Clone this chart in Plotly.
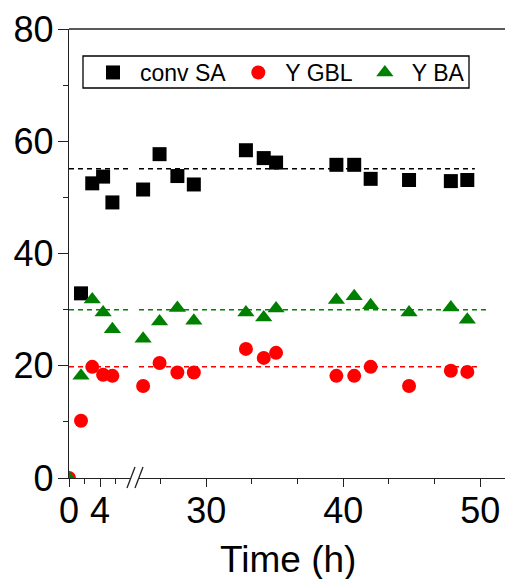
import plotly.graph_objects as go

# ---------------- data ----------------
t_early = [0, 1.55, 3.0, 4.4, 5.6]
t_late = [25.4, 26.6, 27.9, 29.1, 32.9, 34.2, 35.1, 39.5, 40.8, 42.0, 44.8, 47.85, 49.05]

conv_sa_early = [None, 32.9, 52.5, 53.7, 49.1]
conv_sa_late = [51.4, 57.7, 53.8, 52.3, 58.4, 57.0, 56.2, 55.8, 55.8, 53.3, 53.1, 52.9, 53.1]

y_gbl_early = [0, 10.2, 19.8, 18.4, 18.2]
y_gbl_late = [16.4, 20.5, 18.8, 18.8, 23.0, 21.4, 22.3, 18.2, 18.2, 19.8, 16.4, 19.1, 18.9]

y_ba_early = [0, 18.2, 31.8, 29.5, 26.5]
y_ba_late = [24.8, 27.9, 30.3, 28.0, 29.5, 28.6, 30.2, 31.7, 32.4, 30.8, 29.5, 30.4, 28.2]

series_names = ["conv SA", "Y GBL", "Y BA"]
mean_values = [55.1, 19.8, 30.0]       # dashed average lines
mean_line_end = [49.6, 50.0, 50.6]     # time where each dashed line ends

x_tick_early = [0, 4]
x_minor_early = [2, 6]
x_tick_late = [30, 40, 50]
x_minor_late = [26.67, 33.33, 36.67, 43.33, 46.67]
y_ticks = [0, 20, 40, 60, 80]

# ---------------- styling / layout ----------------
FONT = "Arial, 'Liberation Sans', sans-serif"
W, H = 505, 579
ML, MT, MB, MR = 69, 29, 101, 0
PW = W - ML - MR
PH = H - MT - MB
brk_l, brk_r = 131, 139          # pixel x of the axis break
x_early_range = [0, 8.0]
x_late_range = [25.1, 51.8]

def px_x(p):
    return (p - ML) / PW

def px_y(p):
    return (MT + PH - p) / PH

colors = ["black", "#ff0000", "#008000"]
symbols = ["square", "circle", "triangle-up"]
sizes = [14, 14, 15]
early = [conv_sa_early, y_gbl_early, y_ba_early]
late = [conv_sa_late, y_gbl_late, y_ba_late]

fig = go.Figure()

# dashed mean lines (beneath markers)
for i in range(3):
    fig.add_trace(go.Scatter(
        x=[x_early_range[0], x_early_range[1]], y=[mean_values[i]] * 2,
        mode="lines", line=dict(color=colors[i], width=1.5, dash="5px,4px"),
        xaxis="x", yaxis="y", showlegend=False, hoverinfo="skip"))
    fig.add_trace(go.Scatter(
        x=[x_late_range[0], mean_line_end[i]], y=[mean_values[i]] * 2,
        mode="lines", line=dict(color=colors[i], width=1.5, dash="5px,4px"),
        xaxis="x2", yaxis="y", showlegend=False, hoverinfo="skip"))

for i in range(3):
    fig.add_trace(go.Scatter(
        x=t_early, y=early[i], mode="markers", name=series_names[i],
        marker=dict(symbol=symbols[i], size=sizes[i], color=colors[i], line=dict(width=0)),
        xaxis="x", yaxis="y", legendgroup=series_names[i], cliponaxis=True))
    fig.add_trace(go.Scatter(
        x=t_late, y=late[i], mode="markers", name=series_names[i],
        marker=dict(symbol=symbols[i], size=sizes[i], color=colors[i], line=dict(width=0)),
        xaxis="x2", yaxis="y", legendgroup=series_names[i], showlegend=False,
        cliponaxis=False))

axis_common = dict(
    showline=True, linecolor="#222", linewidth=1.3,
    showgrid=False, zeroline=False,
    ticks="outside", ticklen=8, tickwidth=1.3, tickcolor="#222",
    tickfont=dict(family=FONT, size=36, color="black"),
)

fig.update_layout(
    width=W, height=H,
    margin=dict(l=ML, r=MR, t=MT, b=MB),
    paper_bgcolor="white", plot_bgcolor="white",
    font=dict(family=FONT, color="black"),
    xaxis=dict(domain=[0, px_x(brk_l)], range=x_early_range, anchor="y",
               tickmode="array", tickvals=x_tick_early, ticklabelstandoff=-7,
               minor=dict(tickmode="array", tickvals=x_minor_early, ticks="outside",
                          ticklen=5, tickwidth=1.3, tickcolor="#222"),
               **axis_common),
    xaxis2=dict(domain=[px_x(brk_r), 1], range=x_late_range, anchor="y",
                tickmode="array", tickvals=x_tick_late, ticklabelstandoff=-7,
                minor=dict(tickmode="array", tickvals=x_minor_late, ticks="outside",
                           ticklen=5, tickwidth=1.3, tickcolor="#222"),
                **axis_common),
    yaxis=dict(domain=[0, 1], range=[0, 80], anchor="x",
               tickmode="array", tickvals=y_ticks, ticklabelstandoff=-3,
               minor=dict(dtick=10, ticks="outside", ticklen=5, tickwidth=1.3, tickcolor="#222"),
               **{**axis_common, "ticklen": 10}),
    legend=dict(orientation="h", x=px_x(86), y=px_y(72.5), xanchor="left", yanchor="middle",
                borderwidth=0, bgcolor="rgba(0,0,0,0)",
                font=dict(family=FONT, size=23, color="black"), itemwidth=44),
    showlegend=True,
)

# legend frame, top frame line and axis-break marks
shapes = [
    dict(type="rect", xref="paper", yref="paper",
         x0=px_x(83), x1=px_x(469), y0=px_y(88), y1=px_y(56),
         line=dict(color="black", width=1.3), fillcolor="rgba(0,0,0,0)"),
    dict(type="line", xref="paper", yref="paper", x0=0, x1=1, y0=1, y1=1,
         line=dict(color="#222", width=1.3)),
]
for dx in (0, 8):
    shapes.append(dict(type="line", xref="paper", yref="paper",
                       x0=px_x(127 + dx), y0=px_y(488), x1=px_x(135 + dx), y1=px_y(467),
                       line=dict(color="#222", width=1.3)))
fig.update_layout(shapes=shapes)

fig.add_annotation(text="Time (h)", xref="paper", yref="paper",
                   x=px_x(287.5), y=px_y(559), xanchor="center", yanchor="middle",
                   showarrow=False, font=dict(family=FONT, size=37, color="black"))

fig.write_html("out.html")
